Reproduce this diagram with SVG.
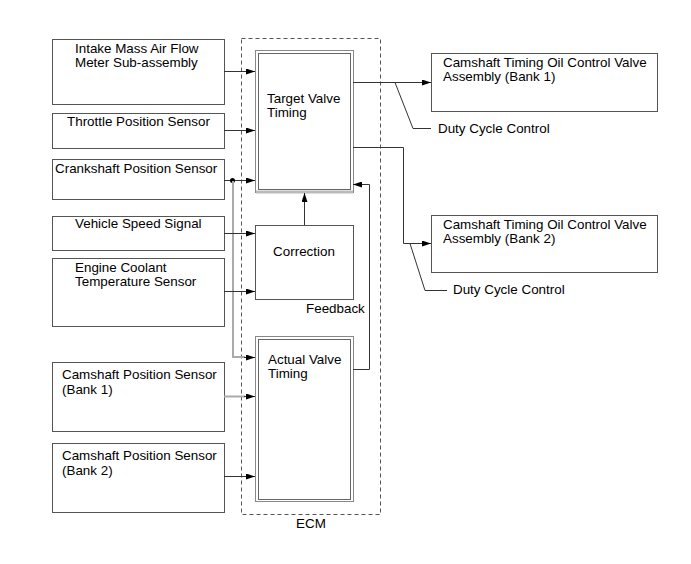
<svg xmlns="http://www.w3.org/2000/svg" width="691" height="564" viewBox="0 0 691 564">
<defs>
<marker id="ah" markerWidth="9" markerHeight="6" refX="9" refY="3" orient="auto" markerUnits="userSpaceOnUse">
<path d="M0,0 L9,3 L0,6 z" fill="#000"/>
</marker>
<style>
text{font-family:"Liberation Sans",Arial,sans-serif;font-size:13.4px;fill:#000}
.box{fill:#fff;stroke:#555;stroke-width:1}
.outer{fill:#fff;stroke:#888;stroke-width:1}
.inner{fill:none;stroke:#666;stroke-width:1}
.ln{fill:none;stroke:#333;stroke-width:1}
.gl{fill:none;stroke:#aaa;stroke-width:2}
.arr{marker-end:url(#ah)}
.ecm{fill:none;stroke:#555;stroke-width:1;stroke-dasharray:4,3}
</style>
</defs>
<rect width="691" height="564" fill="#fff"/>
<g id="ecm">
<rect class="ecm" x="241.5" y="38.5" width="139" height="476"/>
<text x="311" y="528" text-anchor="middle">ECM</text>
</g>
<g id="intake">
<rect class="box" x="52.5" y="39.5" width="172" height="65"/>
<text x="75" y="53">Intake Mass Air Flow</text>
<text x="75" y="67">Meter Sub-assembly</text>
</g>
<g id="throttle">
<rect class="box" x="52.5" y="113.5" width="172" height="35"/>
<text x="67" y="126">Throttle Position Sensor</text>
</g>
<g id="crankshaft">
<rect class="box" x="52.5" y="159.5" width="172" height="40"/>
<text x="55" y="173">Crankshaft Position Sensor</text>
</g>
<g id="vehicle">
<rect class="box" x="52.5" y="216.5" width="172" height="34"/>
<text x="75" y="228">Vehicle Speed Signal</text>
</g>
<g id="coolant">
<rect class="box" x="52.5" y="258.5" width="172" height="68"/>
<text x="75" y="272">Engine Coolant</text>
<text x="75" y="286">Temperature Sensor</text>
</g>
<g id="cam1">
<rect class="box" x="52.5" y="362.5" width="172" height="69"/>
<text x="62" y="379">Camshaft Position Sensor</text>
<text x="62" y="394">(Bank 1)</text>
</g>
<g id="cam2">
<rect class="box" x="52.5" y="443.5" width="172" height="69"/>
<text x="62" y="460">Camshaft Position Sensor</text>
<text x="62" y="475">(Bank 2)</text>
</g>
<g id="target">
<rect class="outer" x="255.5" y="50.5" width="98" height="142"/>
<rect class="inner" x="258.5" y="53.5" width="92" height="136"/>
<line x1="256" y1="192" x2="353" y2="192" stroke="#bbb" stroke-width="3"/>
<text x="267" y="103">Target Valve</text>
<text x="267" y="117">Timing</text>
</g>
<g id="correction">
<rect class="box" x="255.5" y="225.5" width="98" height="74"/>
<text x="304" y="256" text-anchor="middle">Correction</text>
</g>
<g id="actual">
<rect class="outer" x="255.5" y="336.5" width="98" height="165"/>
<rect class="inner" x="258.5" y="339.5" width="92" height="160"/>
<text x="268" y="364">Actual Valve</text>
<text x="268" y="378">Timing</text>
</g>
<g id="ocv1">
<rect class="box" x="431.5" y="53.5" width="226" height="58"/>
<text x="443" y="67">Camshaft Timing Oil Control Valve</text>
<text x="443" y="81">Assembly (Bank 1)</text>
</g>
<g id="ocv2">
<rect class="box" x="431.5" y="215.5" width="226" height="57"/>
<text x="443" y="229">Camshaft Timing Oil Control Valve</text>
<text x="443" y="243">Assembly (Bank 2)</text>
</g>
<g id="labels">
<text x="306" y="313">Feedback</text>
<text x="438" y="133">Duty Cycle Control</text>
<text x="453" y="294">Duty Cycle Control</text>
</g>
<g id="connectors">
<line class="ln arr" x1="224" y1="71.5" x2="255" y2="71.5"/>
<line class="ln arr" x1="224" y1="130.5" x2="255" y2="130.5"/>
<line class="ln arr" x1="224" y1="180.5" x2="255" y2="180.5"/>
<circle cx="232.5" cy="180.5" r="2.5" fill="#000"/>
<polyline class="gl" points="233,181 233,357 245,357"/>
<line class="ln arr" x1="244" y1="357.5" x2="255" y2="357.5"/>
<line class="ln arr" x1="224" y1="233.5" x2="255" y2="233.5"/>
<line class="ln arr" x1="224" y1="291.5" x2="255" y2="291.5"/>
<line class="gl" x1="224" y1="396.5" x2="245" y2="396.5"/>
<line class="ln arr" x1="244" y1="396.5" x2="255" y2="396.5"/>
<line class="ln arr" x1="224" y1="476.5" x2="255" y2="476.5"/>
<line class="ln arr" x1="304.5" y1="225" x2="304.5" y2="193"/>
<polyline class="ln arr" points="353,369.5 369.5,369.5 369.5,184.5 353,184.5"/>
<line class="ln arr" x1="353" y1="82.5" x2="431" y2="82.5"/>
<polyline class="ln" points="395,82.5 413,128.5 431,128.5"/>
<polyline class="ln arr" points="353,147.5 403.5,147.5 403.5,243.5 431,243.5"/>
<polyline class="ln" points="410,243.5 425,290.5 447,290.5"/>
</g>
</svg>
